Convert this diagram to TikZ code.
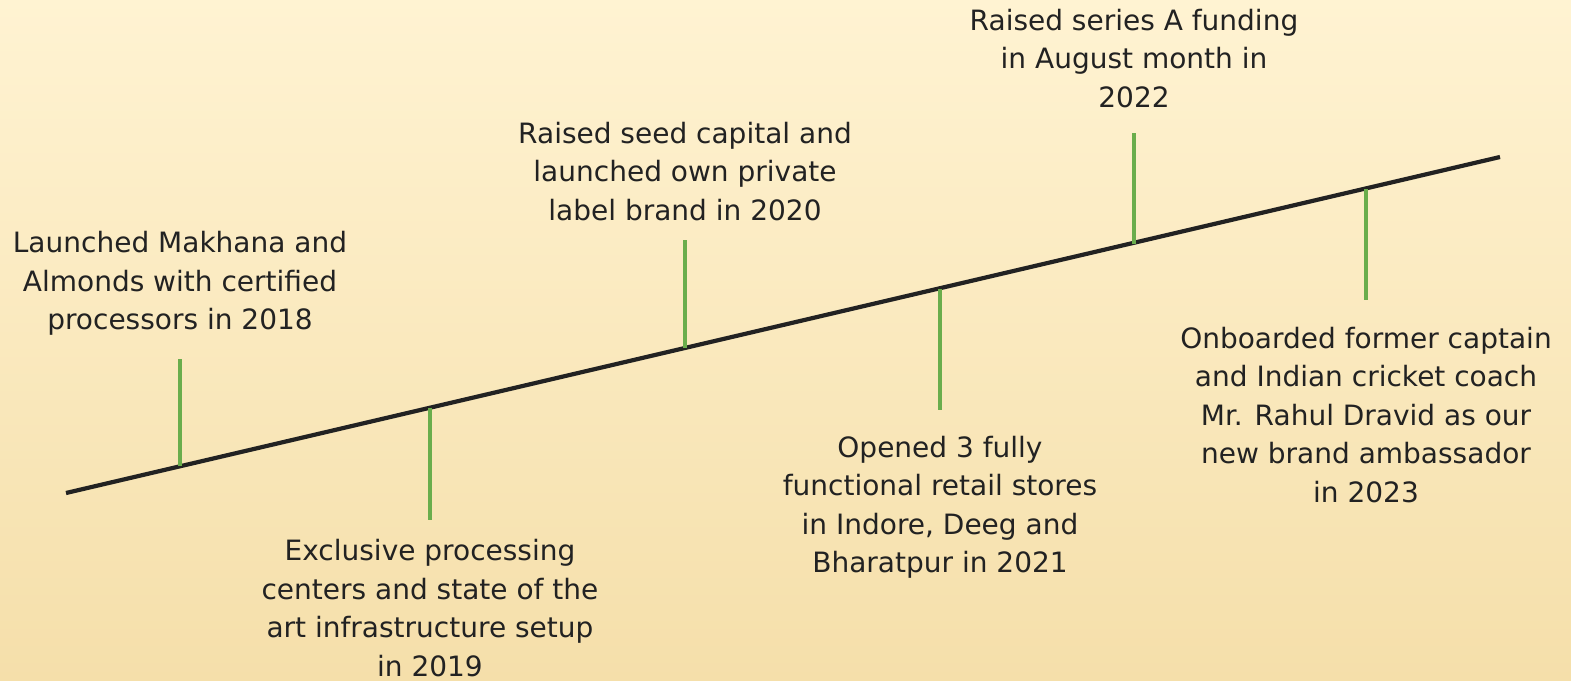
\documentclass[tikz,border=0pt]{standalone}
\usepackage{fontspec}
\setmainfont{DejaVu Sans}
\definecolor{bgtop}{HTML}{FFF3D2}
\definecolor{bgbot}{HTML}{F5DFAA}
\definecolor{tickgreen}{HTML}{6AAD4C}
\definecolor{ink}{HTML}{222222}
\begin{document}
\begin{tikzpicture}[x=1pt,y=-1pt,
  milestone/.style={align=center,inner sep=0pt,text=ink,font=\fontsize{28}{38.5}\selectfont},
  tick/.style={draw=tickgreen,line width=3.6pt},
  axis/.style={draw=ink,line width=4.2pt}]
  % background
  \shade[top color=bgtop,bottom color=bgbot] (0,0) rectangle (1571,680);
  \useasboundingbox (0,0) rectangle (1571,680);
  % main timeline
  \coordinate (start) at (66,493);
  \coordinate (end) at (1500,157);
  \draw[axis] (start) -- (end);
  % tick ends on the timeline and free ends
  \coordinate (a1) at (180,466.3); \coordinate (b1) at (180,359);
  \coordinate (a2) at (430,407.7); \coordinate (b2) at (430,520);
  \coordinate (a3) at (685,348); \coordinate (b3) at (685,240);
  \coordinate (a4) at (940,289); \coordinate (b4) at (940,410);
  \coordinate (a5) at (1134,243.5); \coordinate (b5) at (1134,133);
  \coordinate (a6) at (1366,189); \coordinate (b6) at (1366,300);
  \foreach \i in {1,...,6} \draw[tick] (a\i) -- (b\i);
  % milestone texts
  \node[milestone] (t1) at (180,283.5) {Launched Makhana and\\Almonds with certified\\processors in 2018};
  \node[milestone] (t2) at (430,608) {Exclusive processing\\centers and state of the\\art infrastructure setup\\in 2019};
  \node[milestone] (t3) at (685,171.5) {Raised seed capital and\\launched own private\\label brand in 2020};
  \node[milestone] (t4) at (940,507.5) {Opened 3 fully\\functional retail stores\\in Indore, Deeg and\\Bharatpur in 2021};
  \node[milestone] (t5) at (1134,58.5) {Raised series A funding\\in August month in\\2022};
  \node[milestone] (t6) at (1366,415) {Onboarded former captain\\and Indian cricket coach\\Mr. Rahul Dravid as our\\new brand ambassador\\in 2023};
\end{tikzpicture}
\end{document}
